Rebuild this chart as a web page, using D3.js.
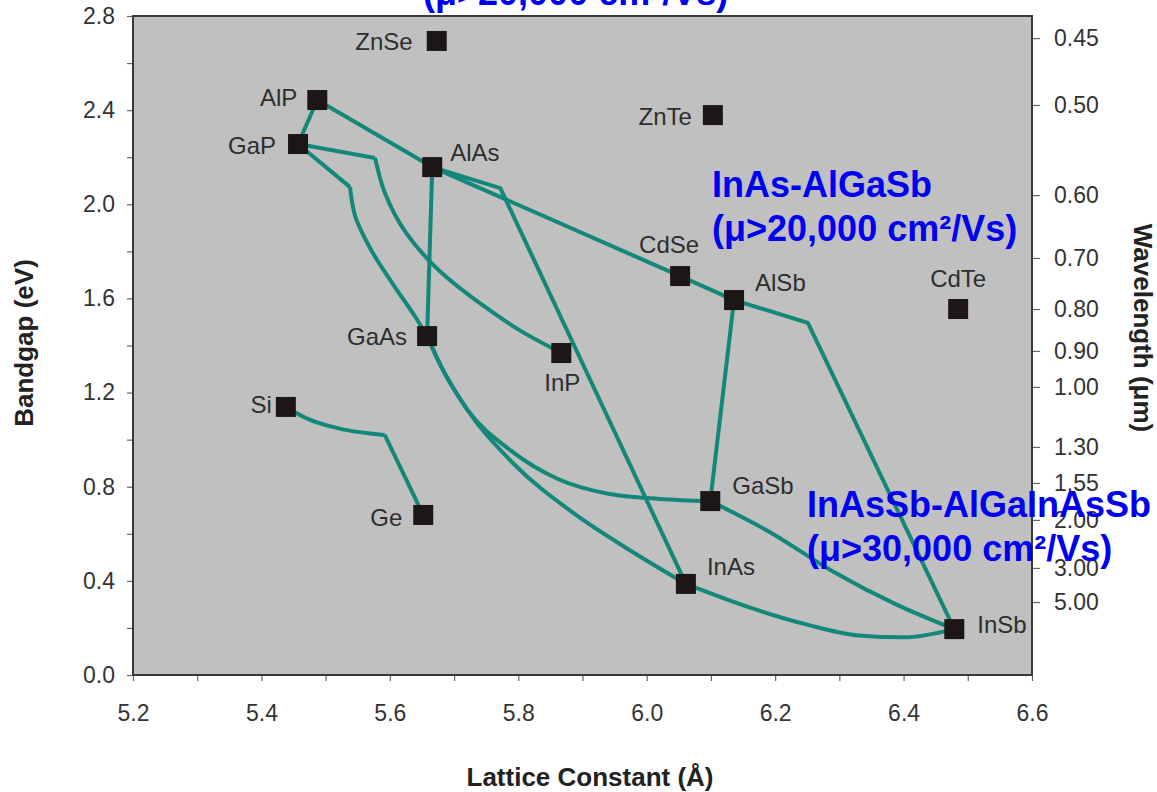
<!DOCTYPE html>
<html>
<head>
<meta charset="utf-8">
<script src="https://cdn.jsdelivr.net/npm/d3@7"></script>
<style>
  body { margin: 0; background: #fff; }
  svg { display: block; }
  text { font-family: "Liberation Sans", Arial, sans-serif; }
</style>
</head>
<body>
<svg id="chart"></svg>
<script>
// compounds: lattice constant (Å) and bandgap (eV)
const compounds = ["ZnSe", "AlP", "GaP", "AlAs", "ZnTe", "CdSe", "AlSb", "CdTe",
                   "GaAs", "InP", "Si", "Ge", "GaSb", "InAs", "InSb"];
const latticeConst = [5.673, 5.487, 5.457, 5.666, 6.103, 6.052, 6.136, 6.485,
                      5.658, 5.867, 5.438, 5.652, 6.099, 6.061, 6.479];
const bandgap = [2.694, 2.443, 2.256, 2.158, 2.379, 1.695, 1.593, 1.555,
                 1.440, 1.368, 1.139, 0.680, 0.739, 0.387, 0.195];

// alloy tie lines, [lattice, bandgap] pairs
const tieAlpGap   = [[5.487, 2.443], [5.457, 2.256]];
const tieAlpAlas  = [[5.487, 2.443], [5.666, 2.158]];
const tieAlasAlsb = [[5.666, 2.158], [6.052, 1.695], [6.136, 1.593]];
const tieAlsbInsb = [[6.136, 1.593], [6.251, 1.496], [6.479, 0.195]];
const tieAlasInas = [[5.666, 2.158], [5.772, 2.069], [6.061, 0.387]];
const tieAlasGaas = [[5.666, 2.158], [5.658, 1.440]];
const tieAlsbGasb = [[6.136, 1.593], [6.099, 0.739]];
const tieGapKink1 = [[5.457, 2.256], [5.538, 2.073]];
const tieGapGaas  = [[5.538, 2.073], [5.546, 1.950], [5.570, 1.810], [5.605, 1.660], [5.640, 1.520], [5.658, 1.440]];
const tieGapKink2 = [[5.457, 2.256], [5.577, 2.197]];
const tieGapInp   = [[5.577, 2.197], [5.592, 2.050], [5.625, 1.880], [5.680, 1.710],
                     [5.745, 1.570], [5.805, 1.460], [5.867, 1.368]];
const tieGaasInas = [[5.658, 1.440], [5.680, 1.310], [5.720, 1.130], [5.790, 0.905],
                     [5.890, 0.680], [5.975, 0.528], [6.061, 0.387]];
const tieGaasGasb = [[5.658, 1.440], [5.680, 1.310], [5.720, 1.130], [5.790, 0.950],
                     [5.860, 0.835], [5.940, 0.770], [6.020, 0.748], [6.099, 0.739]];
const tieGasbInsb = [[6.099, 0.739], [6.190, 0.610], [6.290, 0.440], [6.390, 0.298], [6.479, 0.195]];
const tieInasInsb = [[6.061, 0.387], [6.160, 0.287], [6.250, 0.214], [6.330, 0.168],
                     [6.400, 0.160], [6.479, 0.195]];
const tieSiKink   = [[5.438, 1.139], [5.475, 1.085], [5.520, 1.048], [5.592, 1.020]];
const tieKinkGe   = [[5.592, 1.020], [5.652, 0.680]];

// right axis: wavelength labels and the bandgap where each tick sits
const wavelengthLabels = ["0.45", "0.50", "0.60", "0.70", "0.80", "0.90", "1.00",
                          "1.30", "1.55", "2.00", "3.00", "5.00"];
const wavelengthEv = [2.706, 2.422, 2.039, 1.772, 1.555, 1.377, 1.224,
                      0.969, 0.816, 0.659, 0.455, 0.310];

const xTicks = d3.range(52, 67).map(d => d / 10);
const yTicks = d3.range(0, 15).map(d => d / 5);

const annoTop    = ["(μ>20,000 cm²/Vs)"];
const annoInAs   = ["InAs-AlGaSb", "(μ>20,000 cm²/Vs)"];
const annoInAsSb = ["InAsSb-AlGaInAsSb", "(μ>30,000 cm²/Vs)"];

var width = 1157,
    height = 792,
    plotLeft = 133, plotRight = 1032, plotTop = 16, plotBottom = 675,
    teal = "#13877a",
    markerSize = 20,
    labelFont = "24px",
    tickFont = "23px",
    titleFont = "26px";

const x = d3.scaleLinear().domain([5.2, 6.6]).range([plotLeft, plotRight]);
const y = d3.scaleLinear().domain([0, 2.8]).range([plotBottom, plotTop]);

var svg = d3.select("#chart")
            .attr("width", width)
            .attr("height", height);

// plot background
svg.append("rect")
    .attr("x", plotLeft).attr("y", plotTop)
    .attr("width", plotRight - plotLeft).attr("height", plotBottom - plotTop)
    .attr("fill", "#c0c0c0");

// axes
const styleAxis = function (g) {
    g.select(".domain").remove();
    g.selectAll(".tick line").attr("stroke", "#666").attr("stroke-width", 1.2);
    g.selectAll(".tick text").attr("fill", "#333").attr("font-size", tickFont)
        .attr("font-family", "Liberation Sans, Arial, sans-serif");
};

svg.append("g")
    .attr("transform", "translate(" + plotLeft + ",0)")
    .call(d3.axisLeft(y).tickValues(yTicks).tickSize(6).tickPadding(12)
        .tickFormat((d, i) => i % 2 === 0 ? d3.format(".1f")(d) : ""))
    .call(styleAxis);

svg.append("g")
    .attr("transform", "translate(0," + plotBottom + ")")
    .call(d3.axisBottom(x).tickValues(xTicks).tickSize(6).tickPadding(24)
        .tickFormat((d, i) => i % 2 === 0 ? d3.format(".1f")(d) : ""))
    .call(styleAxis);

svg.append("g")
    .attr("transform", "translate(" + plotRight + ",0)")
    .call(d3.axisRight(y).tickValues(wavelengthEv).tickSize(8).tickPadding(14)
        .tickFormat((d, i) => wavelengthLabels[i]))
    .call(styleAxis);

// frame
svg.append("rect")
    .attr("x", plotLeft).attr("y", plotTop)
    .attr("width", plotRight - plotLeft).attr("height", plotBottom - plotTop)
    .attr("fill", "none")
    .attr("stroke", "#3a3a3a")
    .attr("stroke-width", 2);

// tie lines
const straight = d3.line().x(d => x(d[0])).y(d => y(d[1]));
const smoothX = d3.line().x(d => x(d[0])).y(d => y(d[1])).curve(d3.curveMonotoneX);
const smoothY = d3.line().x(d => x(d[0])).y(d => y(d[1])).curve(d3.curveMonotoneY);

const drawTie = function (pts, gen) {
    svg.append("path")
        .attr("d", gen(pts))
        .attr("fill", "none")
        .attr("stroke", teal)
        .attr("stroke-width", 4)
        .attr("stroke-linejoin", "round");
};

[tieAlpGap, tieAlpAlas, tieAlasAlsb, tieAlsbInsb, tieAlasInas, tieAlasGaas,
 tieAlsbGasb, tieGapKink1, tieGapKink2, tieKinkGe].forEach(p => drawTie(p, straight));
// the two GaP branches drop steeply, so smooth them along the bandgap axis
[tieGapGaas, tieGapInp].forEach(p => drawTie(p, smoothY));
[tieGaasInas, tieGaasGasb, tieGasbInsb, tieInasInsb, tieSiKink].forEach(p => drawTie(p, smoothX));

// markers
svg.selectAll("rect.marker")
    .data(compounds)
    .join("rect")
    .attr("class", "marker")
    .attr("x", (d, i) => x(latticeConst[i]) - markerSize / 2)
    .attr("y", (d, i) => y(bandgap[i]) - markerSize / 2)
    .attr("width", markerSize)
    .attr("height", markerSize)
    .attr("fill", "#1d1616");

// compound labels: offset from the marker centre, and anchor
var labelPlace = {
    ZnSe: [-24, 0, "end"],   AlP: [-20, -3, "end"],   GaP: [-22, 1, "end"],
    AlAs: [18, -15, "start"], ZnTe: [-21, 1, "end"],  CdSe: [-11, -32, "middle"],
    AlSb: [21, -18, "start"], CdTe: [0, -31, "middle"], GaAs: [-20, 0, "end"],
    InP: [1, 29, "middle"],   Si: [-14, -3, "end"],    Ge: [-21, 2, "end"],
    GaSb: [22, -16, "start"], InAs: [21, -18, "start"], InSb: [23, -5, "start"]
};

svg.selectAll("text.label")
    .data(compounds)
    .join("text")
    .attr("class", "label")
    .attr("x", (d, i) => x(latticeConst[i]) + labelPlace[d][0])
    .attr("y", (d, i) => y(bandgap[i]) + labelPlace[d][1])
    .attr("dy", "0.36em")
    .attr("text-anchor", d => labelPlace[d][2])
    .attr("font-size", labelFont)
    .attr("fill", "#2e2e2e")
    .text(d => d);

// axis titles
svg.append("text")
    .attr("x", 590).attr("y", 786)
    .attr("text-anchor", "middle")
    .attr("font-size", titleFont).attr("font-weight", "bold").attr("fill", "#222")
    .text("Lattice Constant (Å)");

svg.append("text")
    .attr("transform", "translate(33,343) rotate(-90)")
    .attr("text-anchor", "middle")
    .attr("font-size", titleFont).attr("font-weight", "bold").attr("fill", "#222")
    .text("Bandgap (eV)");

svg.append("text")
    .attr("transform", "translate(1134,328) rotate(90)")
    .attr("text-anchor", "middle")
    .attr("font-size", titleFont).attr("font-weight", "bold").attr("fill", "#222")
    .text("Wavelength (μm)");

// blue annotations
const drawAnno = function (lines, px, py) {
    lines.forEach(function (s, i) {
        svg.append("text")
            .attr("x", px).attr("y", py + i * 44)
            .attr("font-size", "36px").attr("font-weight", "bold")
            .attr("fill", "#0000f0")
            .text(s);
    });
};
drawAnno(annoTop, 423, 5);
drawAnno(annoInAs, 712, 197);
drawAnno(annoInAsSb, 807, 517);
</script>
</body>
</html>
